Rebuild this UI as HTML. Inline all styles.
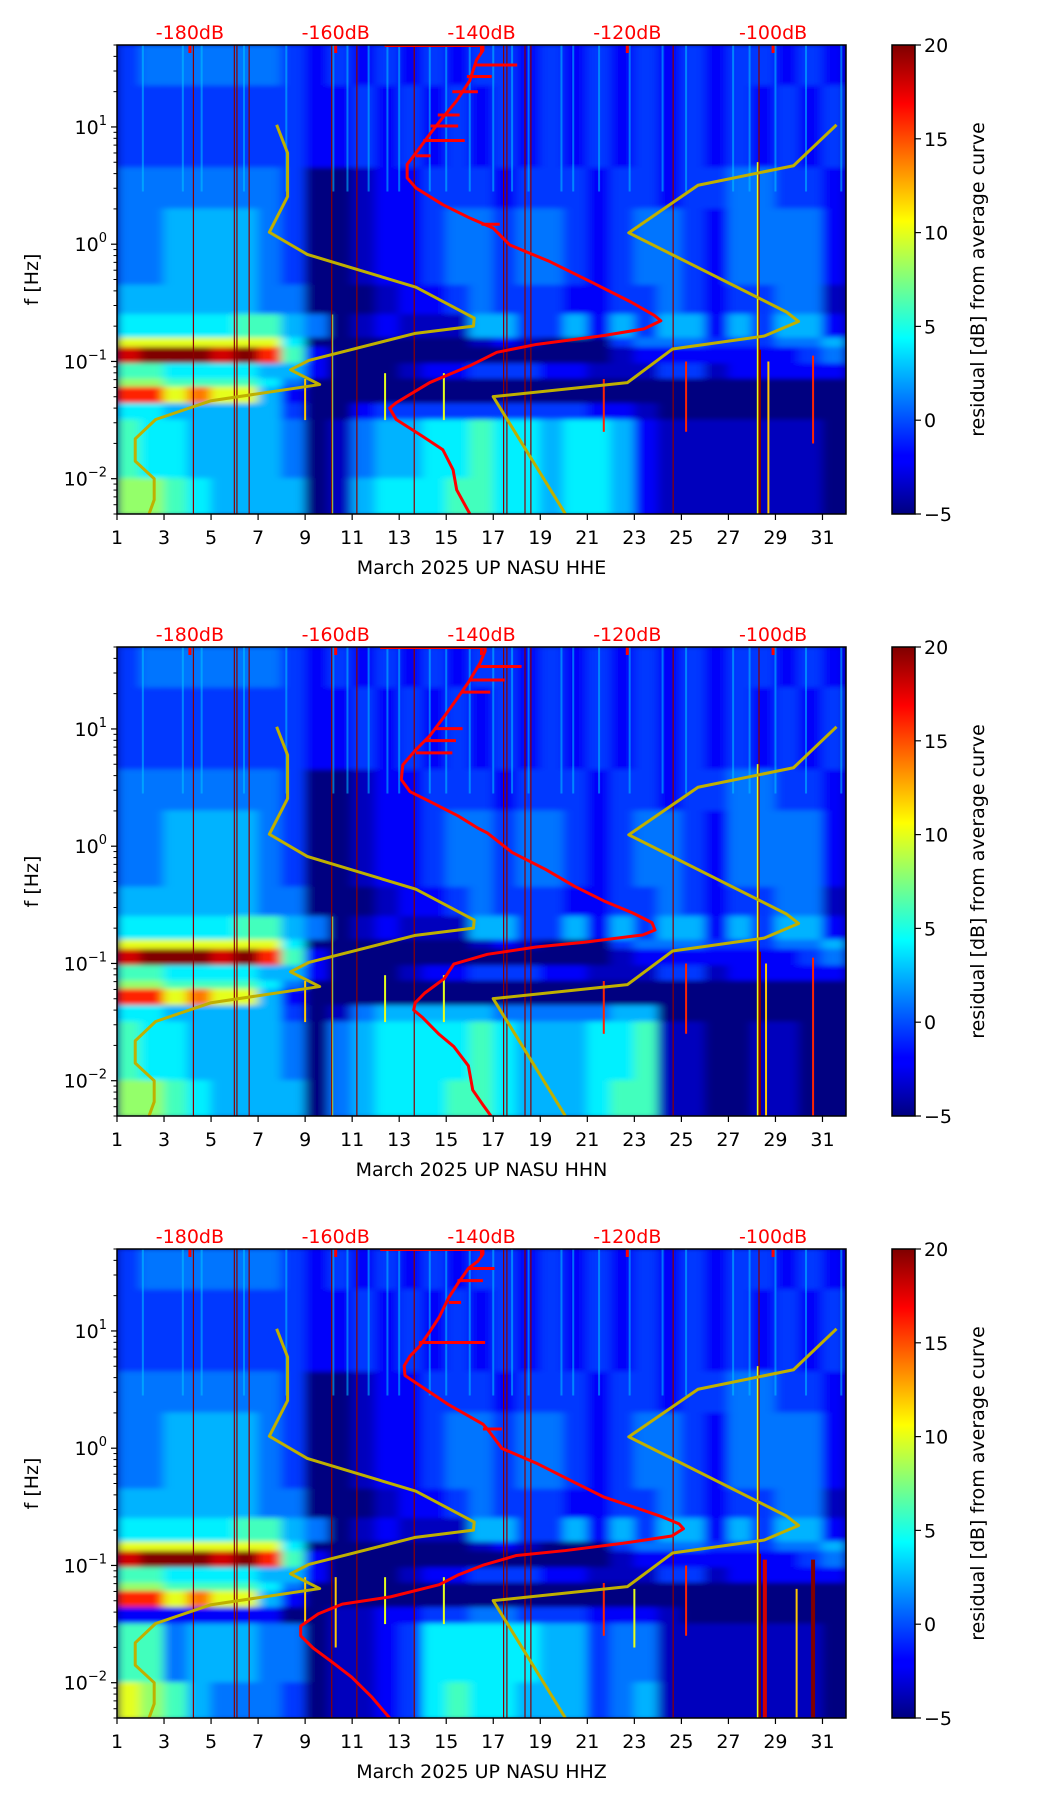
<!DOCTYPE html>
<html><head><meta charset="utf-8"><title>Residual spectrograms March 2025 UP NASU</title>
<style>
html,body{margin:0;padding:0;background:#fff;}
svg{display:block;font-family:"DejaVu Sans","Liberation Sans",sans-serif;}
</style></head>
<body>
<svg id="fig" width="1052" height="1806" viewBox="0 0 1052 1806" xmlns="http://www.w3.org/2000/svg">
<defs>
<linearGradient id="jetGrad" x1="0" y1="1" x2="0" y2="0">
<stop offset="0" stop-color="#00007f"/><stop offset="0.11" stop-color="#0000ff"/>
<stop offset="0.125" stop-color="#0000ff"/><stop offset="0.375" stop-color="#00ffff"/>
<stop offset="0.5" stop-color="#7fff7f"/><stop offset="0.625" stop-color="#ffff00"/>
<stop offset="0.875" stop-color="#ff0000"/><stop offset="1" stop-color="#7f0000"/>
</linearGradient>
<filter id="soft" x="0" y="0" width="1" height="1"><feGaussianBlur stdDeviation="5 2.5"/></filter>
</defs>
</svg>
<script>
// ---- shared data ----
const dayTicks = [1,3,5,7,9,11,13,15,17,19,21,23,25,27,29,31];
const dbTicks = [-180,-160,-140,-120,-100];
const cbTicks = [20,15,10,5,0,-5];
const yMajor = [1,0,-1,-2];
const channels = ['HHE','HHN','HHZ'];
// heatmap: row edges in log10(f), value codes per day (days 1..31)
const rowEdges = [1.7,1.35,0.65,0.3,-0.35,-0.6,-0.8,-0.88,-1.02,-1.15,-1.22,-1.36,-1.5,-2.0,-2.31];
const codeVals = [-5,-3.5,-2,-0.5,1,2.5,4,6,8,10,12,14,16,18,20];
const rowsShared = [
 "deeeeeed"+"cdcdcdcddcdcdcdcdcddcdc",
 "ddddddddc"+"cdcdcdcdcdcdcdcdcdcdcd",
 "eeeeeeed"+"aa"+"bcc"+"ddd"+"c"+"ddd"+"c"+"dd"+"c"+"dd"+"eed"+"d"+"c",
 "eeffffed"+"aa"+"bcc"+"dee"+"d"+"ee"+"d"+"c"+"dee"+"d"+"c"+"eee"+"e"+"c",
 "ffffffee"+"aa"+"abc"+"cde"+"d"+"dd"+"c"+"c"+"dde"+"d"+"c"+"dde"+"e"+"b",
 "ggggghhf"+"ea"+"bcb"+"bbf"+"f"+"dd"+"f"+"c"+"fdf"+"f"+"c"+"fdf"+"f"+"c",
 "jjjjjjjg"+"aa"+"aaa"+"aab"+"c"+"ba"+"a"+"a"+"dee"+"e"+"d"+"dde"+"e"+"f",
 "nooonomh"+"ca"+"aaa"+"aaa"+"a"+"aa"+"a"+"a"+"bcc"+"c"+"c"+"ccc"+"d"+"e",
 "hhggggff"+"ca"+"aab"+"ccd"+"d"+"dc"+"c"+"b"+"bbd"+"d"+"b"+"ccc"+"c"+"c",
 "iihhhhge"+"aa"+"aaaaaaaaaaaaaaaaaaaaa",
 "mmjljjfc"+"aa"+"aaaaaaaaaaaaaaaaaaaaa"
];
const rowsLow1 = [
 "ggfffffd"+"aa"+"cdd"+"ddd"+"d"+"dd"+"d"+"c"+"cba"+"a"+"a"+"aaa"+"a"+"a",
 "hggffffe"+"ab"+"eff"+"ggh"+"g"+"gf"+"g"+"g"+"fcb"+"b"+"b"+"bbb"+"b"+"a",
 "iihgffff"+"ab"+"fgg"+"ghh"+"g"+"gf"+"g"+"g"+"fcb"+"b"+"b"+"bbb"+"b"+"a"
];
const rowsLow2 = [
 "ggfffffd"+"ab"+"eff"+"fff"+"e"+"ee"+"e"+"e"+"ffa"+"a"+"a"+"aaa"+"a"+"a",
 "hggffffe"+"ae"+"fgg"+"ggh"+"g"+"ff"+"f"+"g"+"ghb"+"b"+"a"+"abb"+"a"+"a",
 "iihgffff"+"ae"+"fgg"+"ghh"+"g"+"ff"+"f"+"g"+"hhb"+"b"+"a"+"abb"+"a"+"a"
];
const rowsLow3 = [
 "ccccccca"+"ab"+"bcc"+"dde"+"e"+"dd"+"d"+"c"+"ccb"+"a"+"a"+"aaa"+"a"+"a",
 "hhefffee"+"ab"+"bcd"+"ggg"+"g"+"gf"+"f"+"d"+"eeb"+"b"+"b"+"bbb"+"b"+"a",
 "jihfeeed"+"ab"+"bcd"+"ghg"+"g"+"ff"+"f"+"d"+"efb"+"b"+"b"+"bbb"+"b"+"a"
];
const vLineDays = [4.25,5.99,6.1,6.62,10.13,11.2,13.64,17.44,17.58,18.35,18.6,24.65,28.3];
const hfStreakDays = [2.1,3.8,4.6,6.4,8.2,10.2,10.8,11.7,12.5,13,14.3,15,16,17,17.8,18.5,19.9,20.4,21.5,22.8,24.2,25.2,27.2,27.9,29,30.3,31.8];
// events: day, top log f, bottom log f, value
const events1Day=[25.2,28.3,28.7,30.6,21.7,9.0,12.4,14.9,28.25,10.15];
const events1Top=[-1.0,-0.9,-1.0,-0.95,-1.15,-1.15,-1.1,-1.1,0.7,-0.6];
const events1Bot=[-1.6,-2.31,-2.31,-1.7,-1.6,-1.5,-1.5,-1.5,-2.31,-2.31];
const events1Val=[16,20,12,16,16,12,10,10,10,8];
const events2Day=[25.2,28.3,28.6,30.6,21.7,9.0,12.4,14.9,28.25,10.15];
const events2Top=[-1.0,-0.9,-1.0,-0.95,-1.15,-1.15,-1.1,-1.1,0.7,-0.6];
const events2Bot=[-1.6,-2.31,-2.31,-2.31,-1.6,-1.5,-1.5,-1.5,-2.31,-2.31];
const events2Val=[16,20,12,16,16,12,10,10,10,8];
const events3Day=[25.2,28.3,28.55,29.9,30.6,21.7,9.0,10.3,12.4,14.9,28.25,23.0];
const events3Top=[-1.0,-0.9,-0.95,-1.2,-0.95,-1.15,-1.1,-1.1,-1.1,-1.1,0.7,-1.2];
const events3Bot=[-1.6,-2.31,-2.31,-2.31,-2.31,-1.6,-1.5,-1.7,-1.5,-1.5,-2.31,-1.7];
const events3Val=[16,20,18,12,20,16,12,12,10,10,10,10];
// Peterson noise models (dB vs log10 f)
const nlnmDb = [-168.1,-166.6,-166.6,-169.1,-163.9,-149.0,-141.0,-141.1,-149.2,-163.7,-166.2,-162.2,-177.1,-184.7,-187.5,-187.5,-184.9,-184.9,-185.6];
const nlnmLogF = [1.018,0.778,0.406,0.102,-0.087,-0.367,-0.630,-0.699,-0.762,-0.991,-1.071,-1.197,-1.335,-1.495,-1.66,-1.85,-2.0,-2.18,-2.3];
const nhnmDb = [-91.3,-97.2,-110.3,-119.8,-98.2,-96.5,-101.2,-113.8,-120.0,-138.4,-128.5];
const nhnmLogF = [1.018,0.669,0.503,0.097,-0.577,-0.659,-0.783,-0.894,-1.181,-1.30,-2.3];
// average PSD curves (dB vs log10 f)
const red1Db = [-153.3,-139.8,-139.8,-140.7,-141.6,-143.4,-145.3,-147.1,-148.8,-150.2,-150.2,-149.0,-145.3,-141.6,-138.4,-136.1,-130.6,-125.0,-119.5,-116.3,-115.4,-117.7,-123.2,-132.4,-137.9,-141.6,-147.1,-151.7,-152.6,-151.7,-148.1,-145.3,-143.9,-143.4,-141.6];
const red1LogF = [1.695,1.695,1.654,1.568,1.396,1.224,1.081,0.938,0.795,0.681,0.566,0.480,0.337,0.223,0.137,-0.007,-0.149,-0.321,-0.493,-0.607,-0.653,-0.722,-0.779,-0.854,-0.922,-1.037,-1.180,-1.352,-1.398,-1.495,-1.638,-1.753,-1.924,-2.096,-2.3];
const red2Db = [-153.9,-139.5,-139.5,-140.2,-141.8,-143.2,-145.1,-147.1,-149.1,-150.8,-151.0,-149.8,-147.1,-143.2,-140.5,-139.2,-135.8,-131.2,-127.2,-123.2,-119.2,-116.6,-116.2,-117.9,-125.9,-132.5,-139.2,-143.8,-145.1,-147.8,-149.1,-149.3,-148.1,-145.8,-143.8,-141.8,-141.2,-139.8,-138.7];
const red2LogF = [1.695,1.695,1.666,1.562,1.397,1.272,1.107,0.941,0.817,0.693,0.568,0.465,0.382,0.258,0.154,0.113,-0.053,-0.198,-0.343,-0.467,-0.571,-0.653,-0.715,-0.757,-0.819,-0.860,-0.922,-1.005,-1.129,-1.253,-1.336,-1.398,-1.460,-1.605,-1.709,-1.873,-2.08,-2.206,-2.301];
const red3Db = [-153.9,-139.8,-139.8,-140.5,-141.8,-143.2,-144.5,-145.8,-147.1,-148.5,-149.8,-150.6,-150.5,-148.5,-144.5,-139.8,-139.2,-137.2,-132.5,-127.2,-123.2,-119.2,-115.3,-112.9,-112.3,-113.9,-120.6,-128.5,-135.2,-139.8,-143.2,-145.8,-152.5,-159.1,-162.4,-164.8,-164.8,-163.1,-160.4,-157.8,-155.1,-152.6];
const red3LogF = [1.695,1.695,1.657,1.595,1.533,1.409,1.284,1.118,0.994,0.869,0.786,0.703,0.620,0.537,0.371,0.205,0.164,-0.002,-0.127,-0.293,-0.417,-0.500,-0.583,-0.645,-0.687,-0.749,-0.811,-0.873,-0.915,-0.998,-1.081,-1.164,-1.268,-1.330,-1.413,-1.517,-1.600,-1.704,-1.828,-1.953,-2.119,-2.301];
// horizontal spikes on the average curves
const spike1LogF=[1.528,1.43,1.30,1.102,1.008,0.884,0.754,0.17];
const spike1From=[-141,-142,-144,-146,-147,-148,-149,-140];
const spike1To=[-135.1,-138.6,-140.5,-143,-143.2,-142.3,-147,-137.5];
const spike2LogF=[1.533,1.417,1.314,1.003,0.90,0.796];
const spike2From=[-140.5,-141.6,-142.8,-146.5,-147.8,-149];
const spike2To=[-134.5,-136.8,-138.8,-142.6,-143.5,-144];
const spike3LogF=[1.533,1.429,1.243,0.902,0.164];
const spike3From=[-141.8,-143.3,-144.5,-148.6,-139.8];
const spike3To=[-138.2,-139.8,-142.8,-139.5,-137.2];

const panelRows=[rowsShared.concat(rowsLow1),rowsShared.concat(rowsLow2),rowsShared.concat(rowsLow3)];
const panelEvents=[[events1Day,events1Top,events1Bot,events1Val],[events2Day,events2Top,events2Bot,events2Val],[events3Day,events3Top,events3Bot,events3Val]];
const panelRed=[[red1Db,red1LogF],[red2Db,red2LogF],[red3Db,red3LogF]];
const panelSpikes=[[spike1LogF,spike1From,spike1To],[spike2LogF,spike2From,spike2To],[spike3LogF,spike3From,spike3To]];

// ---- layout ----
const PL=117, PR=846, PT0=45, PH=469, STEP=602;
const LMAX=Math.log10(50), LMIN=Math.log10(0.005);
const CBL=892, CBR=915;
const NS='http://www.w3.org/2000/svg';
const svg=document.getElementById('fig');
function mk(tag,attrs,parent){const e=document.createElementNS(NS,tag);for(const k in attrs)e.setAttribute(k,attrs[k]);(parent||svg).appendChild(e);return e;}
function clamp(x){return Math.max(0,Math.min(1,x));}
function jet(v){const t=clamp((v+5)/25);const r=clamp(1.5-Math.abs(4*t-3)),g=clamp(1.5-Math.abs(4*t-2)),b=clamp(1.5-Math.abs(4*t-1));return 'rgb('+Math.round(r*255)+','+Math.round(g*255)+','+Math.round(b*255)+')';}
function codeVal(c){return codeVals["abcdefghijklmno".indexOf(c)];}

channels.forEach((ch,p)=>{
  const PT=PT0+p*STEP, PB=PT+PH;
  const xDay=d=>PL+(d-1)*(PR-PL)/31;
  const xDb=db=>PL+(db+190)*(PR-PL)/100;
  const yL=l=>PT+(LMAX-l)*PH/(LMAX-LMIN);
  const g=mk('g',{});
  
  
  const clipId='clip'+p;
  const cp=mk('clipPath',{id:clipId},g);
  mk('rect',{x:PL,y:PT,width:PR-PL,height:PH},cp);
  const plot=mk('g',{'clip-path':'url(#'+clipId+')'},g);
  
  
  mk('rect',{x:PL,y:PT,width:PR-PL,height:PH,fill:'#00007f'},plot);
  const hm=mk('g',{filter:'url(#soft)'},plot);
  const rows=panelRows[p];
  rows.forEach((row,ri)=>{
    const y1=yL(rowEdges[ri]), y2=yL(rowEdges[ri+1]);
    for(let di=0;di<31;di++){
      const c=mk('rect',{x:xDay(di+1)-0.5,y:y1-0.5,width:xDay(di+2)-xDay(di+1)+1,height:y2-y1+1,fill:jet(codeVal(row[di]))},hm);
      
      
    }
  });
  hfStreakDays.forEach(d=>{
    const s=mk('line',{x1:xDay(d),x2:xDay(d),y1:yL(1.7),y2:yL(0.45),stroke:jet(3),'stroke-width':2,opacity:0.55},plot);
    
    
  });
  const ev=panelEvents[p];
  ev[0].forEach((d,i)=>{
    const s=mk('line',{x1:xDay(d),x2:xDay(d),y1:yL(ev[1][i]),y2:yL(ev[2][i]),stroke:jet(ev[3][i]),'stroke-width':ev[3][i]>=18?4:2},plot);
    
    
  });
  vLineDays.forEach(d=>{
    const s=mk('line',{x1:xDay(d),x2:xDay(d),y1:PT,y2:PB,stroke:'#8b0000','stroke-width':1.2},plot);
    
    
  });
  const ptsN=nlnmDb.map((v,i)=>xDb(v)+','+yL(nlnmLogF[i])).join(' ');
  const ln=mk('polyline',{points:ptsN,fill:'none',stroke:'#bfb000','stroke-width':3,'stroke-linejoin':'round'},plot);
  
  
  const ptsH=nhnmDb.map((v,i)=>xDb(v)+','+yL(nhnmLogF[i])).join(' ');
  const lh=mk('polyline',{points:ptsH,fill:'none',stroke:'#bfb000','stroke-width':3,'stroke-linejoin':'round'},plot);
  
  
  const rd=panelRed[p];
  const ptsR=rd[0].map((v,i)=>xDb(v)+','+yL(rd[1][i])).join(' ');
  const lr=mk('polyline',{points:ptsR,fill:'none',stroke:'#ff0000','stroke-width':3,'stroke-linejoin':'round'},plot);
  
  
  const sp=panelSpikes[p];
  sp[0].forEach((l,i)=>{
    const s=mk('line',{x1:xDb(sp[1][i]),x2:xDb(sp[2][i]),y1:yL(l),y2:yL(l),stroke:'#ff0000','stroke-width':3},plot);
    
    
  });
  dbTicks.forEach(db=>{
    const t=mk('rect',{x:xDb(db)-1.5,y:PT,width:3,height:8,fill:'#ff0000'},g);
    
    
    const lb=mk('text',{x:xDb(db),y:PT-6,'text-anchor':'middle','font-size':19,fill:'#ff0000'},g);
    lb.textContent=db+'dB';
    
    
  });
  const fr=mk('rect',{x:PL,y:PT,width:PR-PL,height:PH,fill:'none',stroke:'#000','stroke-width':1.5},g);
  
  
  dayTicks.forEach(d=>{
    mk('line',{x1:xDay(d),x2:xDay(d),y1:PB,y2:PB+6,stroke:'#000','stroke-width':1.2},g);
    const lb=mk('text',{x:xDay(d),y:PB+30,'text-anchor':'middle','font-size':19,fill:'#000'},g);
    lb.textContent=d;
    
    
  });
  const xl=mk('text',{x:(PL+PR)/2,y:PB+60,'text-anchor':'middle','font-size':19,fill:'#000','xml:space':'preserve'},g);
  xl.textContent='March 2025 UP NASU  '+ch;
  
  
  for(let k=-3;k<=1;k++){for(let m=2;m<=9;m++){const l=k+Math.log10(m);if(l<LMIN||l>LMAX)continue;mk('line',{x1:PL-3.5,x2:PL,y1:yL(l),y2:yL(l),stroke:'#000','stroke-width':1},g);}}
  yMajor.forEach(k=>{
    mk('line',{x1:PL-6,x2:PL,y1:yL(k),y2:yL(k),stroke:'#000','stroke-width':1.2},g);
    const lb=mk('text',{x:PL-10,y:yL(k)+7,'text-anchor':'end','font-size':19,fill:'#000'},g);
    
    
    const t1=mk('tspan',{},lb);t1.textContent='10';
    const t2=mk('tspan',{'font-size':13,dy:-9},lb);t2.textContent=(k<0?'\u2212':'')+Math.abs(k);
  });
  const yl=mk('text',{x:0,y:0,'text-anchor':'middle','font-size':19,fill:'#000',transform:'translate(38,'+(PT+PH/2)+') rotate(-90)'},g);
  yl.textContent='f [Hz]';
  
  
  const cb=mk('rect',{x:CBL,y:PT,width:CBR-CBL,height:PH,fill:'url(#jetGrad)',stroke:'#000','stroke-width':1.5},g);
  
  
  cbTicks.forEach(v=>{
    const y=PT+(20-v)/25*PH;
    mk('line',{x1:CBR,x2:CBR+6,y1:y,y2:y,stroke:'#000','stroke-width':1.2},g);
    const lb=mk('text',{x:CBR+9,y:y+7,'font-size':19,fill:'#000'},g);
    lb.textContent=(v<0?'\u2212':'')+Math.abs(v);
    
    
  });
  const cl=mk('text',{x:0,y:0,'text-anchor':'middle','font-size':19,fill:'#000',transform:'translate(984,'+(PT+PH/2)+') rotate(-90)'},g);
  cl.textContent='residual [dB] from average curve';
  
  
});
</script>
</body></html>
